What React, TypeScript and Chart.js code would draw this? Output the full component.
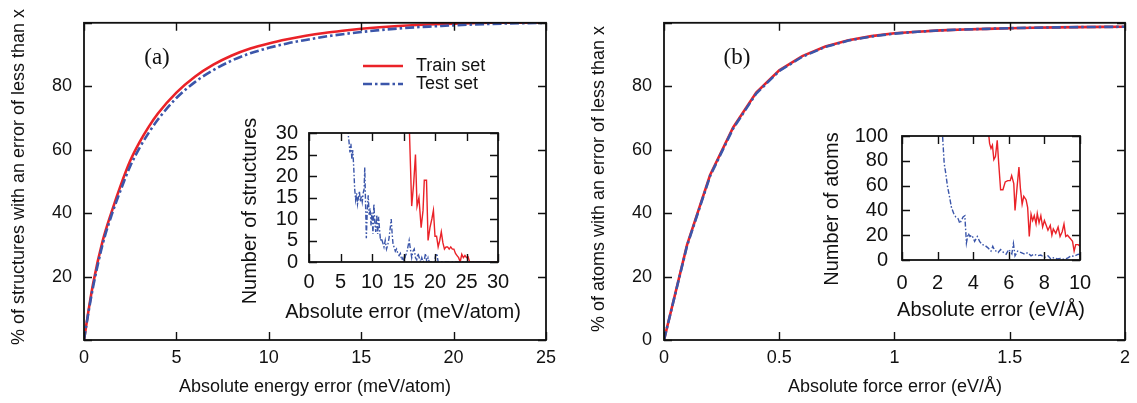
import React, { useEffect, useRef } from 'react';
import { Chart, registerables } from 'chart.js';

Chart.register(...registerables);

const SANS = '"Liberation Sans", Arial, Helvetica, sans-serif';
const SERIF = '"Liberation Serif", "Times New Roman", serif';
const RED = '#ea2228';
const BLUE = '#3b56aa';
const INK = '#111111';

// ---- Panel (a): cumulative % of structures vs absolute energy error (meV/atom)
const energyErrX = [0, 0.25, 0.5, 1, 1.5, 2, 2.5, 3, 3.5, 4, 5, 6, 7, 8, 9, 10, 11, 12, 13, 14, 15, 16, 17, 18, 19, 20, 21, 22, 23, 24, 25];
const trainCumA = [0, 9.5, 18, 31, 40.5, 49, 56.5, 62.3, 67.2, 71.4, 78, 83, 86.8, 89.7, 91.9, 93.5, 94.8, 95.9, 96.8, 97.5, 98.1, 98.6, 99.0, 99.3, 99.55, 99.75, 99.9, 100, 100, 100, 100];
const testCumA = [0, 9, 17, 30, 39.5, 47.5, 54.8, 60.5, 65.3, 69.5, 76.3, 81.3, 85.1, 88.1, 90.4, 92.1, 93.5, 94.6, 95.6, 96.4, 97.1, 97.7, 98.2, 98.6, 98.9, 99.2, 99.45, 99.65, 99.8, 99.9, 100];

// ---- Inset (a): number of structures vs absolute error (meV/atom)
const insetATestX = [5.5, 5.8, 6.0, 6.2, 6.35, 6.5, 6.65, 6.8, 6.95, 7.1, 7.25, 7.4, 7.55, 7.7, 7.85, 8.0, 8.15, 8.3, 8.45, 8.6, 8.75, 8.85, 9.0, 9.1, 9.25, 9.4, 9.55, 9.7, 9.85, 10.0, 10.15, 10.3, 10.45, 10.6, 10.75, 10.9, 11.05, 11.2, 11.35, 11.5, 11.7, 11.9, 12.1, 12.3, 12.5, 12.7, 12.9, 13.05, 13.2, 13.35, 13.5, 13.7, 13.9, 14.1, 14.3, 14.5, 14.7, 14.9, 15.1, 15.3, 15.5, 15.7, 15.9, 16.1, 16.3, 16.5, 16.7, 16.9, 17.1, 17.3, 17.5, 17.7, 17.9, 18.1, 18.3, 18.5, 18.7, 18.9, 19.1, 19.5, 19.9, 20.1, 20.3, 20.5, 21, 30];
const insetATestY = [48, 40, 34, 30, 28, 25.5, 27.5, 24, 26, 22, 17, 14.5, 16, 13.5, 15, 16.5, 14, 15.5, 14, 16, 17, 22, 12, 5.5, 12, 15.5, 11, 12.5, 8.5, 11.5, 6.5, 13.5, 9, 7, 11, 6.5, 10.5, 7.5, 5, 5.5, 4.5, 3.5, 5, 3, 4, 5.5, 8, 10, 6.5, 4, 3.5, 2.5, 3, 2, 1.5, 2, 0.5, 1, 0, 1.5, 2, 3.5, 5, 3, 1, 2.5, 3, 1, 0.5, 2, 1, 0, 1, 0, 0.5, 2, 0, 1, 0, 0, 0, 1.5, 2, 0, 0, 0];
const insetATrainX = [15.5, 15.95, 16.3, 16.6, 16.9, 17.15, 17.45, 17.8, 18.1, 18.3, 18.65, 18.9, 19.2, 19.5, 19.75, 20.0, 20.25, 20.5, 20.75, 21.0, 21.25, 21.5, 21.75, 22.0, 22.25, 22.5, 22.75, 23.0, 23.25, 23.5, 23.75, 24.0, 24.25, 24.5, 24.75, 25.0, 25.25, 25.5, 26, 30];
const insetATrainY = [40, 30, 13, 18, 25, 13, 15, 8, 12, 19, 19, 5, 8, 10, 12, 6, 6, 3.5, 5, 7, 4.5, 3, 3.5, 3.5, 3, 3.5, 3, 3, 2, 1.5, 1, 0, 1.8, 1, 1.5, 1, 1.2, 0, 0, 0];

// ---- Panel (b): cumulative % of atoms vs absolute force error (eV/Å)
const forceErrX = [0, 0.1, 0.2, 0.3, 0.4, 0.5, 0.6, 0.7, 0.8, 0.9, 1.0, 1.1, 1.2, 1.3, 1.4, 1.5, 1.6, 1.7, 1.8, 1.9, 2.0];
const trainCumB = [0, 30, 52, 67, 78, 85, 89.5, 92.5, 94.5, 95.8, 96.7, 97.2, 97.6, 97.9, 98.1, 98.3, 98.45, 98.55, 98.65, 98.7, 98.75];
const testCumB = [0, 29.7, 51.7, 66.7, 77.7, 84.8, 89.3, 92.4, 94.4, 95.7, 96.6, 97.2, 97.6, 97.9, 98.1, 98.3, 98.45, 98.55, 98.65, 98.7, 98.75];

// ---- Inset (b): number of atoms vs absolute error (eV/Å)
const insetBTestX = [2.05, 2.2, 2.28, 2.37, 2.45, 2.56, 2.65, 2.78, 2.9, 3.02, 3.15, 3.25, 3.34, 3.43, 3.53, 3.62, 3.72, 3.82, 3.93, 4.08, 4.23, 4.36, 4.5, 4.64, 4.83, 5.0, 5.1, 5.2, 5.4, 5.54, 5.67, 5.85, 6.0, 6.17, 6.26, 6.35, 6.5, 6.7, 6.9, 7.06, 7.25, 7.43, 7.6, 7.8, 8.0, 8.2, 8.36, 8.55, 8.73, 8.9, 9.1, 9.3, 9.5, 9.67, 9.9, 10];
const insetBTestY = [150, 115, 100, 78, 70.6, 59, 52.6, 42.3, 37.7, 34.7, 33.4, 29.5, 32, 34.7, 35.7, 13.7, 21.5, 18.9, 20, 15, 19, 15, 12.4, 12, 9.8, 7.2, 11, 8, 6, 8.5, 6.5, 4.7, 8.5, 5, 13.2, 3.4, 7.2, 6, 4.7, 6, 3.4, 4.7, 3.4, 4, 2, 3.4, 0.8, 2, 0.8, 1.3, 0.5, 1.5, 3.4, 3, 4.7, 4];
const insetBTrainX = [4.7, 4.88, 4.92, 5.0, 5.08, 5.16, 5.25, 5.35, 5.43, 5.54, 5.67, 5.8, 5.94, 6.08, 6.16, 6.28, 6.35, 6.46, 6.57, 6.65, 6.75, 6.84, 6.97, 7.06, 7.15, 7.25, 7.34, 7.43, 7.53, 7.6, 7.7, 7.8, 7.9, 8.0, 8.1, 8.2, 8.33, 8.42, 8.5, 8.64, 8.77, 8.88, 9.0, 9.1, 9.2, 9.3, 9.44, 9.58, 9.67, 9.76, 9.9, 10];
const insetBTrainY = [120, 100, 94, 90, 92.6, 81, 83.5, 96.5, 78.6, 56.6, 56.6, 63, 64, 64, 68, 61.6, 40, 58, 75, 58, 45, 51.4, 48.6, 42.2, 19, 37, 31.8, 35.7, 29.2, 37.5, 30, 35.7, 26.6, 31.8, 28, 24, 28, 20, 25, 21.5, 26.6, 19, 22.8, 29, 19, 20, 17.6, 15, 7.2, 12.4, 12.4, 11];

const zip = (xs: number[], ys: number[]) => {
  const n = Math.min(xs.length, ys.length);
  const out: { x: number; y: number }[] = [];
  for (let i = 0; i < n; i++) out.push({ x: xs[i], y: ys[i] });
  return out;
};

function makeDecor(spec: any) {
  return {
    id: 'decor',
    afterDraw(chart: any) {
      const { ctx, chartArea: a, scales } = chart;
      const xs = scales.x;
      const ys = scales.y;
      const L = spec.tickLen;
      ctx.save();
      ctx.strokeStyle = INK;
      ctx.lineWidth = 1.4;
      ctx.beginPath();
      xs.ticks.forEach((t: any) => {
        const p = Math.round(xs.getPixelForValue(t.value)) + 0.5;
        ctx.moveTo(p, a.bottom);
        ctx.lineTo(p, a.bottom - L);
        ctx.moveTo(p, a.top);
        ctx.lineTo(p, a.top + L);
      });
      ys.ticks.forEach((t: any) => {
        const p = Math.round(ys.getPixelForValue(t.value)) + 0.5;
        ctx.moveTo(a.left, p);
        ctx.lineTo(a.left + L, p);
        ctx.moveTo(a.right, p);
        ctx.lineTo(a.right - L, p);
      });
      ctx.stroke();
      ctx.lineWidth = 1.8;
      ctx.strokeRect(a.left, a.top, a.right - a.left, a.bottom - a.top);

      ctx.fillStyle = INK;
      ctx.textAlign = 'center';
      ctx.textBaseline = 'middle';
      (spec.texts || []).forEach((t: any) => {
        ctx.save();
        ctx.translate(t.x - spec.cx, t.y - spec.cy);
        if (t.rot) ctx.rotate(t.rot);
        ctx.font = t.font;
        ctx.fillText(t.text, 0, 0);
        ctx.restore();
      });

      (spec.legend || []).forEach((it: any) => {
        const ds = chart.data.datasets[it.index];
        ctx.save();
        ctx.strokeStyle = ds.borderColor;
        ctx.lineWidth = ds.borderWidth;
        ctx.setLineDash(ds.borderDash || []);
        ctx.beginPath();
        ctx.moveTo(it.x0 - spec.cx, it.y - spec.cy);
        ctx.lineTo(it.x1 - spec.cx, it.y - spec.cy);
        ctx.stroke();
        ctx.restore();
        ctx.font = `18px ${SANS}`;
        ctx.textAlign = 'left';
        ctx.fillText(ds.label, it.tx - spec.cx, it.y - spec.cy);
      });
      ctx.restore();
    },
  };
}

function buildConfig(spec: any) {
  const tickFont = { family: SANS, size: spec.tickSize };
  const fmt = (hide: number[]) => (v: any) => (hide.indexOf(Number(v)) >= 0 ? '' : String(v));
  return {
    type: 'line',
    data: { datasets: spec.datasets },
    options: {
      responsive: false,
      animation: false,
      events: [],
      layout: {
        padding: { left: 0, top: spec.T - spec.cy, right: spec.cx + spec.cw - spec.R, bottom: 0 },
      },
      plugins: { legend: { display: false }, tooltip: { enabled: false } },
      elements: { point: { radius: 0 } },
      scales: {
        x: {
          type: 'linear',
          min: spec.xMin,
          max: spec.xMax,
          ticks: {
            stepSize: spec.xStep,
            font: tickFont,
            color: INK,
            padding: spec.xPad,
            autoSkip: false,
            maxRotation: 0,
            callback: fmt(spec.xHide || []),
          },
          grid: { display: false, drawTicks: false },
          border: { display: false },
          afterFit: (s: any) => {
            s.height = spec.cy + spec.ch - spec.B;
          },
        },
        y: {
          type: 'linear',
          min: spec.yMin,
          max: spec.yMax,
          ticks: {
            stepSize: spec.yStep,
            font: tickFont,
            color: INK,
            padding: spec.yPad,
            autoSkip: false,
            callback: fmt(spec.yHide || []),
          },
          grid: { display: false, drawTicks: false },
          border: { display: false },
          afterFit: (s: any) => {
            s.width = spec.L - spec.cx;
          },
        },
      },
    },
    plugins: [makeDecor(spec)],
  };
}

function Panel({ spec }: { spec: any }) {
  const ref = useRef<HTMLCanvasElement>(null);
  useEffect(() => {
    const chart = new Chart(ref.current as HTMLCanvasElement, buildConfig(spec) as any);
    return () => chart.destroy();
  }, [spec]);
  return (
    <div style={{ position: 'absolute', left: spec.cx, top: spec.cy, width: spec.cw, height: spec.ch }}>
      <canvas ref={ref} width={spec.cw} height={spec.ch} style={{ width: spec.cw, height: spec.ch, display: 'block' }} />
    </div>
  );
}

const mainLine = (label: string, data: any, color: string, dash: number[], smooth: boolean) => ({
  label,
  data,
  borderColor: color,
  backgroundColor: color,
  borderWidth: 2.6,
  borderDash: dash,
  fill: false,
  tension: 0,
  cubicInterpolationMode: smooth ? 'monotone' : 'default',
});

const insetLine = (label: string, data: any, color: string, dash: number[]) => ({
  label,
  data,
  borderColor: color,
  backgroundColor: color,
  borderWidth: 1.4,
  borderDash: dash,
  fill: false,
  tension: 0,
});

const MAIN_DASH = [9, 3, 2.5, 3];
const INSET_DASH = [5, 2, 1.5, 2];
const ROT = -Math.PI / 2;
const mainTitle = `18px ${SANS}`;
const insetTitle = `20px ${SANS}`;
const panelFont = `23px ${SERIF}`;

const specA = {
  cx: 0, cy: 0, cw: 568, ch: 403,
  L: 84, T: 18, R: 546, B: 340,
  xMin: 0, xMax: 25, xStep: 5, yMin: 0, yMax: 100, yStep: 20,
  yHide: [0, 100], tickSize: 18, xPad: 7, yPad: 12, tickLen: 8,
  datasets: [
    mainLine('Test set', zip(energyErrX, testCumA), BLUE, MAIN_DASH, true),
    mainLine('Train set', zip(energyErrX, trainCumA), RED, [], true),
  ],
  texts: [
    { text: 'Absolute energy error (meV/atom)', x: 315, y: 387, font: mainTitle },
    { text: '% of structures with an error of less than x', x: 19, y: 177, rot: ROT, font: mainTitle },
    { text: '(a)', x: 157, y: 58, font: panelFont },
  ],
  legend: [
    { index: 1, x0: 363, x1: 403, tx: 416, y: 66 },
    { index: 0, x0: 363, x1: 403, tx: 416, y: 84 },
  ],
};

const specB = {
  cx: 568, cy: 0, cw: 569, ch: 403,
  L: 664, T: 18, R: 1127, B: 340,
  xMin: 0, xMax: 2, xStep: 0.5, yMin: 0, yMax: 100, yStep: 20,
  yHide: [100], tickSize: 18, xPad: 7, yPad: 12, tickLen: 8,
  datasets: [
    mainLine('Test set', zip(forceErrX, testCumB), BLUE, MAIN_DASH, false),
    mainLine('Train set', zip(forceErrX, trainCumB), RED, [], false),
  ],
  texts: [
    { text: 'Absolute force error (eV/Å)', x: 895, y: 387, font: mainTitle },
    { text: '% of atoms with an error of less than x', x: 599, y: 179, rot: ROT, font: mainTitle },
    { text: '(b)', x: 737, y: 58, font: panelFont },
  ],
};

const specInsetA = {
  cx: 230, cy: 110, cw: 300, ch: 220,
  L: 309, T: 133, R: 498, B: 262,
  xMin: 0, xMax: 30, xStep: 5, yMin: 0, yMax: 30, yStep: 5,
  tickSize: 20, xPad: 8, yPad: 11, tickLen: 8,
  datasets: [
    insetLine('Test set', zip(insetATestX, insetATestY), BLUE, INSET_DASH),
    insetLine('Train set', zip(insetATrainX, insetATrainY), RED, []),
  ],
  texts: [
    { text: 'Absolute error (meV/atom)', x: 403, y: 312, font: insetTitle },
    { text: 'Number of structures', x: 250, y: 211, rot: ROT, font: insetTitle },
  ],
};

const specInsetB = {
  cx: 800, cy: 110, cw: 320, ch: 220,
  L: 902, T: 130, R: 1080, B: 260,
  xMin: 0, xMax: 10, xStep: 2, yMin: 0, yMax: 100, yStep: 20,
  tickSize: 20, xPad: 11, yPad: 14, tickLen: 8,
  datasets: [
    insetLine('Test set', zip(insetBTestX, insetBTestY), BLUE, INSET_DASH),
    insetLine('Train set', zip(insetBTrainX, insetBTrainY), RED, []),
  ],
  texts: [
    { text: 'Absolute error (eV/Å)', x: 991, y: 310, font: insetTitle },
    { text: 'Number of atoms', x: 832, y: 209, rot: ROT, font: insetTitle },
  ],
};

export default function App() {
  return (
    <div style={{ position: 'absolute', left: 0, top: 0, width: 1137, height: 403, background: '#ffffff', overflow: 'hidden' }}>
      <Panel spec={specA} />
      <Panel spec={specB} />
      <Panel spec={specInsetA} />
      <Panel spec={specInsetB} />
    </div>
  );
}
